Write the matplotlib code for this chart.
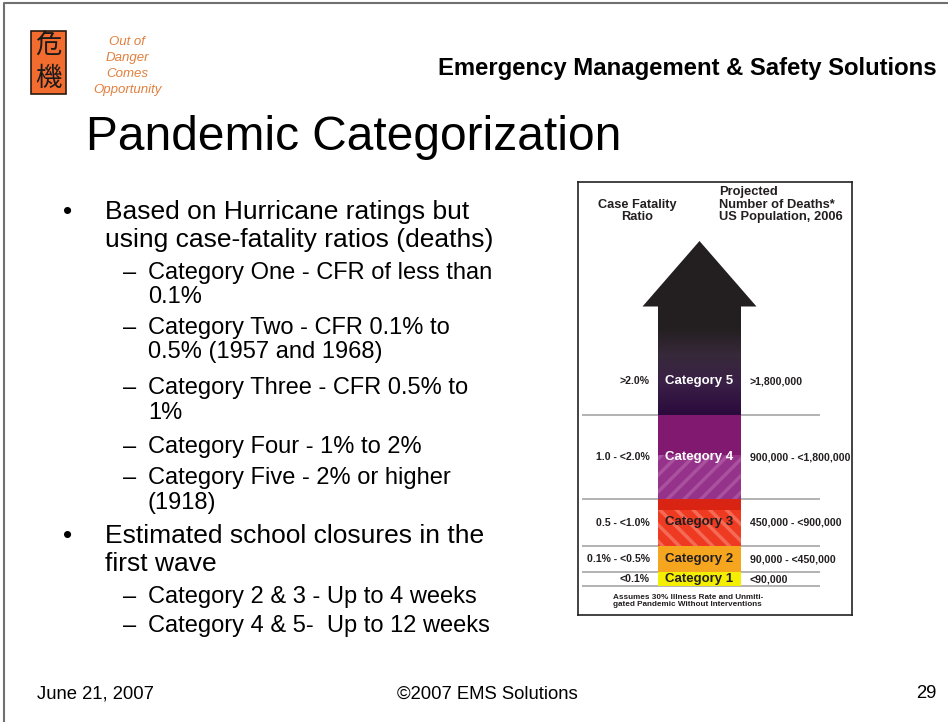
import matplotlib
matplotlib.use("Agg")
import matplotlib.pyplot as plt
import numpy as np
from matplotlib.patches import Rectangle, Polygon
from matplotlib.colors import LinearSegmentedColormap

plt.rcParams['font.family'] = ['Liberation Sans', 'DejaVu Sans']
plt.rcParams['hatch.linewidth'] = 2.5

# --- chart data ---
categories = ["Category 1", "Category 2", "Category 3", "Category 4", "Category 5"]
cfr_labels = ["<0.1%", "0.1% - <0.5%", "0.5 - <1.0%", "1.0 - <2.0%", ">2.0%"]
death_labels = ["<90,000", "90,000 - <450,000", "450,000 - <900,000",
                "900,000 - <1,800,000", ">1,800,000"]
band_heights = [14, 26, 47, 84, 109]   # thickness of each band on the arrow
band_colors = ["#f4ee00", "#f6a51f", "#d92414", "#80196f", "#2f1a3a"]
label_colors = ["#231f20", "#231f20", "#231f20", "white", "white"]

# --- slide text ---
header = "Emergency Management & Safety Solutions"
title = "Pandemic Categorization"
tagline = ["Out of", "Danger", "Comes", "Opportunity"]
bullet_lines = [
    ("b", "Based on Hurricane ratings but"),
    ("c", "using case-fatality ratios (deaths)"),
    ("s", "Category One - CFR of less than"),
    ("c2", "0.1%"),
    ("s", "Category Two - CFR 0.1% to"),
    ("c2", "0.5% (1957 and 1968)"),
    ("s", "Category Three - CFR 0.5% to"),
    ("c2", "1%"),
    ("s", "Category Four - 1% to 2%"),
    ("s", "Category Five - 2% or higher"),
    ("c2", "(1918)"),
    ("b", "Estimated school closures in the"),
    ("c", "first wave"),
    ("s", "Category 2 & 3 - Up to 4 weeks"),
    ("s", "Category 4 & 5-  Up to 12 weeks"),
]
line_y = [219, 247, 279, 303, 334, 358, 394, 419, 453, 484, 509, 543, 571, 603, 632]
footer_left = "June 21, 2007"
footer_mid = "\u00a92007 EMS Solutions"
footer_right = "29"

fig = plt.figure(figsize=(9.48, 7.22), dpi=100)
bg = fig.add_axes([0, 0, 1, 1])
bg.set_xlim(0, 948)
bg.set_ylim(722, 0)
bg.axis('off')

# slide frame (left and top edge only)
bg.plot([4, 4, 948], [722, 3, 3], color='#707070', lw=1.5)

# logo
bg.add_patch(Rectangle((31, 31), 35, 63, fc='#f36c2f', ec='#2a1a10', lw=1.2))
bg.text(48.5, 46, "\u5371", fontsize=19, color='#1a1a1a', ha='center', va='center',
        family=['Noto Sans CJK JP', 'DejaVu Sans'])
bg.text(48.5, 78, "\u6a5f", fontsize=19, color='#1a1a1a', ha='center', va='center',
        family=['Noto Sans CJK JP', 'DejaVu Sans'])
for i, t in enumerate(tagline):
    bg.text(127, 42 + 16 * i, t, fontsize=9.5, style='italic', color='#e0803e',
            ha='center', va='center')

bg.text(937, 68, header, fontsize=17.2, fontweight='bold', ha='right', va='center',
        color='black')
bg.text(86, 150, title, fontsize=34.5, ha='left', va='baseline', color='black')

for (kind, t), y in zip(bullet_lines, line_y):
    if kind == "b":
        bg.text(63, y, "\u2022", fontsize=19, va='baseline')
        bg.text(105, y, t, fontsize=19, va='baseline')
    elif kind == "c":
        bg.text(105, y, t, fontsize=19, va='baseline')
    elif kind == "s":
        bg.text(123, y, "\u2013", fontsize=17, va='baseline')
        bg.text(148, y, t, fontsize=17, va='baseline')
    else:
        bg.text(148, y, t, fontsize=17, va='baseline')

bg.text(37, 694, footer_left, fontsize=13.3, va='center', ha='left')
bg.text(487, 694, footer_mid, fontsize=13.3, va='center', ha='center')
bg.text(937, 694, footer_right, fontsize=13.3, va='center', ha='right')

# --- chart panel ---
ax = fig.add_axes([578 / 948, 1 - 615 / 722, 274 / 948, 433 / 722])
ax.set_xlim(0, 274)
ax.set_ylim(0, 433)
ax.set_xticks([])
ax.set_yticks([])
for s in ax.spines.values():
    s.set_linewidth(1.2)
    s.set_color('#222222')

heights = np.array(band_heights, dtype=float)
bottoms = 29 + np.concatenate([[0], np.cumsum(heights)[:-1]])
cx, shaft_w = 121.5, 83

ax.hlines(bottoms, 4, 242, color='#a5a5a5', lw=1.2, zorder=1)

bars = ax.bar([cx] * 5, heights, width=shaft_w, bottom=bottoms,
              color=band_colors, zorder=3)

# category 5 fades into the black arrow
cmap = LinearSegmentedColormap.from_list(
    'c5', [(0, '#2b0a3c'), (0.3, '#3a2046'), (0.55, '#37293a'),
           (0.8, '#231f20'), (1, '#231f20')])
grad = np.linspace(0, 1, 200).reshape(-1, 1)
im = ax.imshow(grad, cmap=cmap, origin='lower', aspect='auto', zorder=4,
               extent=(cx - shaft_w / 2, cx + shaft_w / 2,
                       bottoms[4], bottoms[4] + heights[4]))
im.set_clip_path(bars[4])

top = bottoms[4] + heights[4]
ax.add_patch(Polygon([(cx - 57, top - 0.5), (cx + 57, top - 0.5), (cx, top + 65)],
                     closed=True, fc='#231f20', ec='none', zorder=4))

# lighter striped lower parts of category 4 and 3
ax.add_patch(Rectangle((cx - shaft_w / 2, bottoms[3]), shaft_w, heights[3] * 0.52,
                       fc='#953289', ec='#a9519f', hatch='//', lw=0, zorder=3.5))
ax.add_patch(Rectangle((cx - shaft_w / 2, bottoms[2]), shaft_w, heights[2] * 0.77,
                       fc='#ef3a22', ec='#f46a56', hatch='\\\\', lw=0, zorder=3.5))

label_y = bottoms + heights / 2
label_y[4] = bottoms[4] + heights[4] * 0.31
for i in range(5):
    ax.text(cx, label_y[i], categories[i], color=label_colors[i], fontsize=9.5,
            fontweight='bold', ha='center', va='center', zorder=6)
    ax.text(72, label_y[i], cfr_labels[i], color='#231f20', fontsize=7.6,
            fontweight='bold', ha='right', va='center')
    ax.text(172, label_y[i], death_labels[i], color='#231f20', fontsize=7.6,
            fontweight='bold', ha='left', va='center')

ax.text(59, 404, "Case Fatality\nRatio", fontsize=9.2, fontweight='bold',
        ha='center', va='center', linespacing=1.0, color='#231f20')
ax.text(141, 429, "Projected\nNumber of Deaths*\nUS Population, 2006", fontsize=9.3,
        fontweight='bold', ha='left', va='top', linespacing=1.08, color='#231f20')
ax.text(35, 14, "Assumes 30% Illness Rate and Unmiti-\ngated Pandemic Without Interventions",
        fontsize=5.9, fontweight='bold', ha='left', va='center', linespacing=1.05,
        color='#231f20')

fig.savefig("out.png", dpi=100)
